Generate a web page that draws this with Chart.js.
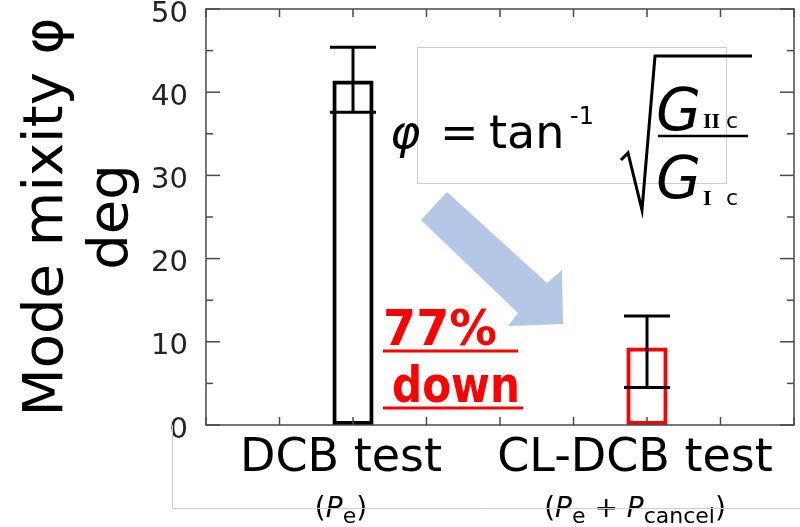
<!DOCTYPE html>
<html>
<head>
<meta charset="utf-8">
<script src="https://cdn.jsdelivr.net/npm/chart.js@4/dist/chart.umd.min.js"></script>
<style>
  html, body { margin: 0; padding: 0; background: #fff; }
</style>
</head>
<body>
<canvas id="myChart" width="800" height="527"></canvas>
<script>
// DATA
const categories = ["DCB test", "CL-DCB test"];
const meanPhi = [41.4, 9.3];
const errLow = [37.6, 4.5];
const errHigh = [45.4, 13.1];
const barColors = ["#000000", "#ff0000"];
const yTicks = [0, 10, 20, 30, 40, 50];
const yMinorStep = 5;
// second line under each category: [text, style]  n=normal, i=italic, s=subscript
const subLabels = [
  [["(", "n"], ["P", "i"], ["e", "s"], [")", "n"]],
  [["(", "n"], ["P", "i"], ["e", "s"], [" + ", "n"], ["P", "i"], ["cancel", "s"], [")", "n"]]
];

const FONT = "'DejaVu Sans', Verdana, sans-serif";

function line(ctx, x1, y1, x2, y2) {
  ctx.beginPath();
  ctx.moveTo(x1, y1);
  ctx.lineTo(x2, y2);
  ctx.stroke();
}

// FRAME + INWARD TICKS
const framePlugin = {
  id: "frame",
  afterDatasetsDraw(chart) {
    const { ctx, chartArea: a, scales: { x, y } } = chart;
    ctx.save();
    ctx.strokeStyle = "#4a4a4a";
    ctx.lineWidth = 1.5;
    ctx.strokeRect(a.left, a.top, a.width, a.height);
    for (let v = yTicks[0]; v <= yTicks[yTicks.length - 1]; v += yMinorStep) {
      const py = y.getPixelForValue(v);
      const len = yTicks.includes(v) ? 14 : 7;
      line(ctx, a.left, py, a.left + len, py);
      line(ctx, a.right, py, a.right - len, py);
    }
    for (let k = -0.5; k <= categories.length - 0.5; k += 0.25) {
      const px = x.getPixelForValue(k);
      line(ctx, px, a.top, px, a.top + 8);
      line(ctx, px, a.bottom, px, a.bottom - 8);
    }
    ctx.restore();
  }
};

// ERROR BARS
const errorBars = {
  id: "errorBars",
  afterDatasetsDraw(chart) {
    const { ctx, scales: { x, y } } = chart;
    ctx.save();
    ctx.strokeStyle = "#000";
    ctx.lineWidth = 3;
    categories.forEach(function (c, i) {
      const px = x.getPixelForValue(i);
      const top = y.getPixelForValue(errHigh[i]);
      const bot = y.getPixelForValue(errLow[i]);
      line(ctx, px, top, px, bot);
      line(ctx, px - 23, top, px + 23, top);
      line(ctx, px - 23, bot, px + 23, bot);
    });
    ctx.restore();
  }
};

// SUB LABELS (P_e ...)
const subLabelPlugin = {
  id: "subLabels",
  afterDraw(chart) {
    const { ctx, scales: { x } } = chart;
    const fonts = { n: "28px " + FONT, i: "italic 28px " + FONT, s: "22px " + FONT };
    ctx.save();
    ctx.fillStyle = "#000";
    ctx.textBaseline = "alphabetic";
    subLabels.forEach(function (parts, i) {
      let w = 0;
      parts.forEach(function (p) { ctx.font = fonts[p[1]]; w += ctx.measureText(p[0]).width; });
      let cx = x.getPixelForValue(i) - 12 - w / 2;
      parts.forEach(function (p) {
        ctx.font = fonts[p[1]];
        ctx.fillText(p[0], cx, p[1] === "s" ? 523 : 517);
        cx += ctx.measureText(p[0]).width;
      });
    });
    ctx.restore();
  }
};

// ANNOTATIONS (formula, arrow, 77% down, box lines)
const notes = {
  id: "notes",
  afterDraw(chart) {
    const { ctx } = chart;
    ctx.save();
    // light box lines
    ctx.strokeStyle = "#cccccc";
    ctx.lineWidth = 1;
    ctx.beginPath();
    ctx.moveTo(172.5, 425);
    ctx.lineTo(172.5, 508.5);
    ctx.lineTo(800, 508.5);
    ctx.stroke();
    ctx.strokeRect(417.5, 47.5, 309, 136);

    // arrow
    ctx.fillStyle = "#b4c7e7";
    ctx.beginPath();
    ctx.moveTo(447, 192);
    ctx.lineTo(547, 283);
    ctx.lineTo(562, 270);
    ctx.lineTo(563, 324);
    ctx.lineTo(508, 326);
    ctx.lineTo(518, 313);
    ctx.lineTo(421, 220);
    ctx.closePath();
    ctx.fill();

    // formula
    ctx.fillStyle = "#000";
    ctx.textBaseline = "alphabetic";
    ctx.font = "italic 46px " + FONT;
    ctx.fillText("φ", 390, 148);
    ctx.font = "46px " + FONT;
    ctx.fillText("=", 440, 148);
    ctx.fillText("tan", 489, 148);
    ctx.font = "24px " + FONT;
    ctx.fillText("-1", 570, 124);
    ctx.strokeStyle = "#000";
    ctx.lineWidth = 3;
    ctx.beginPath();
    ctx.moveTo(621, 160);
    ctx.lineTo(628, 153);
    ctx.lineTo(642, 210);
    ctx.lineTo(655, 56);
    ctx.lineTo(752, 56);
    ctx.stroke();
    ctx.lineWidth = 2.5;
    line(ctx, 658, 136, 748, 136);
    ctx.font = "italic 58px " + FONT;
    ctx.fillText("G", 656, 130);
    ctx.fillText("G", 656, 198);
    ctx.font = "bold 22px 'Liberation Serif', serif";
    ctx.fillText("II", 703, 128);
    ctx.fillText("I", 703, 205);
    ctx.font = "22px " + FONT;
    ctx.fillText("c", 726, 128);
    ctx.fillText("c", 726, 205);

    // 77% down
    ctx.fillStyle = "#ff0000";
    ctx.strokeStyle = "#ff0000";
    ctx.font = "bold 50px " + FONT;
    ctx.fillText("77%", 383, 345, 114);
    ctx.fillText("down", 392, 402, 128);
    ctx.lineWidth = 3;
    line(ctx, 383, 351, 518, 351);
    line(ctx, 383, 408, 523, 408);
    ctx.restore();
  }
};

const ctx = document.getElementById("myChart");

new Chart(ctx, {
  type: "bar",
  data: {
    labels: categories,
    datasets: [
      {
        data: meanPhi,
        backgroundColor: "rgba(255,255,255,0)",
        borderColor: barColors,
        borderWidth: 4,
        borderSkipped: false,
        barPercentage: 0.14,
        categoryPercentage: 1,
      },
    ],
  },
  options: {
    responsive: false,
    animation: false,
    layout: { padding: { top: 9, right: 6, left: 0, bottom: 0 } },
    plugins: { legend: { display: false }, tooltip: { enabled: false } },
    scales: {
      x: {
        grid: { display: false, drawTicks: false },
        border: { display: false },
        ticks: { color: "#000", font: { family: FONT, size: 46 }, padding: 6, labelOffset: -12, maxRotation: 0 },
        afterFit: function (s) { s.height = 102; s.paddingLeft = 0; s.paddingRight = 0; },
      },
      y: {
        min: 0,
        max: 50,
        grid: { display: false, drawTicks: false },
        border: { display: false },
        ticks: { stepSize: 10, color: "#222", font: { family: FONT, size: 29 }, padding: 18, labelOffset: 5 },
        title: {
          display: true,
          text: ["Mode mixity φ", "deg"],
          color: "#000",
          font: { family: FONT, size: 56, lineHeight: 1.16 },
          padding: { top: 15, bottom: 0 },
        },
        afterFit: function (s) { s.width = 206; s.paddingTop = 0; s.paddingBottom = 0; },
      },
    },
  },
  plugins: [framePlugin, errorBars, subLabelPlugin, notes],
});
</script>
</body>
</html>
